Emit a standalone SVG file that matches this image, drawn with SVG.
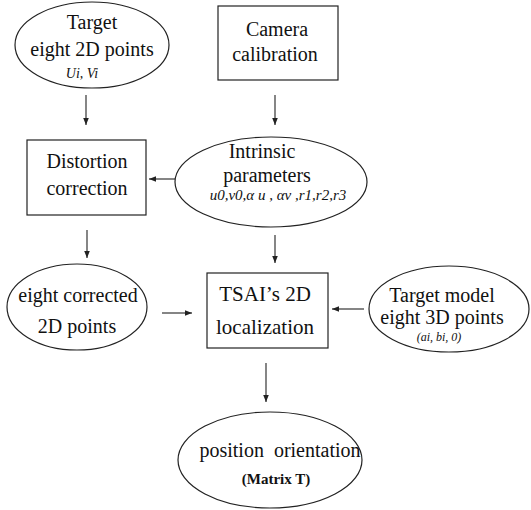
<svg xmlns="http://www.w3.org/2000/svg" width="531" height="510" viewBox="0 0 531 510">
<defs>
<style>
.s{fill:none;stroke:#222;stroke-width:1.2}
.t{font-family:"Liberation Serif",serif;font-size:20px;fill:#111;text-anchor:middle}
.i{font-family:"Liberation Serif",serif;font-size:15px;font-style:italic;fill:#111;text-anchor:middle}
.c{fill:none;stroke:#222;stroke-width:1.1}
</style>
<marker id="a" viewBox="0 0 10 10" refX="10" refY="5" markerWidth="7" markerHeight="7" markerUnits="userSpaceOnUse" orient="auto">
<path d="M0,1 L10,5 L0,9 Z" fill="#222"/>
</marker>
</defs>
<rect width="531" height="510" fill="#fff"/>
<g id="target2d">
<ellipse class="s" cx="92" cy="45" rx="77" ry="43"/>
<text class="t" x="92" y="29">Target</text>
<text class="t" x="92" y="56">eight 2D points</text>
<text class="i" x="82" y="78" style="font-size:14px">Ui, Vi</text>
</g>
<g id="camera">
<rect class="s" x="218" y="6" width="120" height="74"/>
<text class="t" x="277" y="36">Camera</text>
<text class="t" x="275" y="61">calibration</text>
</g>
<g id="distortion">
<rect class="s" x="27" y="140" width="119" height="75"/>
<text class="t" x="87" y="168">Distortion</text>
<text class="t" x="87" y="195">correction</text>
</g>
<g id="intrinsic">
<ellipse class="s" cx="271" cy="182" rx="96" ry="45"/>
<text class="t" x="262" y="158">Intrinsic</text>
<text class="t" x="267" y="182">parameters</text>
<text class="i" x="278" y="200">u0,v0,α u , αv ,r1,r2,r3</text>
</g>
<g id="corrected">
<ellipse class="s" cx="77" cy="307" rx="70" ry="43"/>
<text class="t" x="78" y="302">eight corrected</text>
<text class="t" x="77" y="333">2D points</text>
</g>
<g id="tsai">
<rect class="s" x="207" y="273" width="121" height="75"/>
<text class="t" x="265" y="301" style="font-size:21px">TSAI’s 2D</text>
<text class="t" x="265" y="334" style="font-size:21px">localization</text>
</g>
<g id="model3d">
<ellipse class="s" cx="449" cy="309" rx="80" ry="43"/>
<text class="t" x="442" y="302">Target model</text>
<text class="t" x="442" y="324">eight 3D points</text>
<text class="i" x="439" y="341" style="font-size:12px">(ai, bi, 0)</text>
</g>
<g id="position">
<ellipse class="s" cx="270" cy="460" rx="92" ry="48"/>
<text class="t" x="280" y="457" style="white-space:pre">position  orientation</text>
<text class="t" x="276" y="484" style="font-size:15px;font-weight:bold">(Matrix T)</text>
</g>
<g id="connectors">
<line class="c" x1="86" y1="95" x2="86" y2="125" marker-end="url(#a)"/>
<line class="c" x1="275" y1="95" x2="275" y2="125" marker-end="url(#a)"/>
<line class="c" x1="175" y1="179" x2="149" y2="179" marker-end="url(#a)"/>
<line class="c" x1="87" y1="230" x2="87" y2="258" marker-end="url(#a)"/>
<line class="c" x1="275" y1="235" x2="275" y2="263" marker-end="url(#a)"/>
<line class="c" x1="162" y1="313" x2="192" y2="313" marker-end="url(#a)"/>
<line class="c" x1="364" y1="309" x2="332" y2="309" marker-end="url(#a)"/>
<line class="c" x1="266" y1="363" x2="266" y2="402" marker-end="url(#a)"/>
</g>
</svg>
